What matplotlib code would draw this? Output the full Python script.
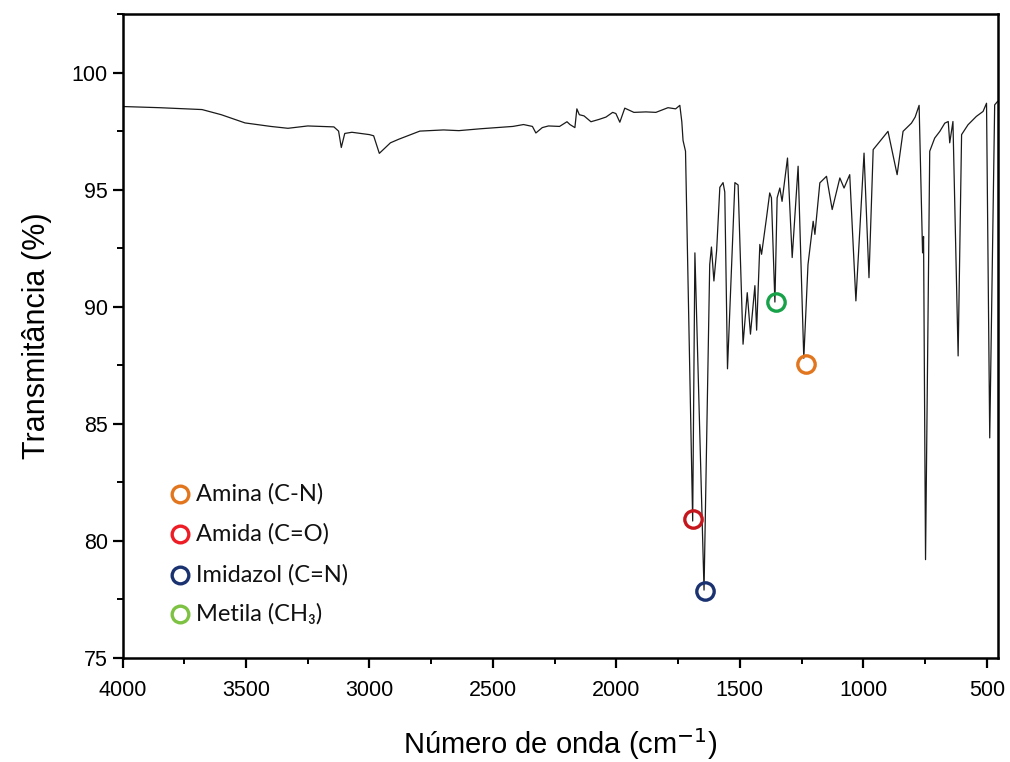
import matplotlib
matplotlib.use("Agg")
import matplotlib.pyplot as plt
from matplotlib.ticker import MultipleLocator

# FTIR spectrum (wavenumber in cm-1, transmittance in %)
wavenumber = [4000, 3850, 3678, 3600, 3504, 3400, 3330, 3250, 3144, 3125, 3114, 3100,
              3071, 3000, 2983, 2960, 2945, 2915, 2882, 2796, 2700, 2638, 2550, 2419,
              2376, 2340, 2326, 2300, 2275, 2230, 2200, 2188, 2168, 2160, 2150, 2131,
              2103, 2070, 2042, 2015, 2002, 1986, 1966, 1929, 1880, 1840, 1791, 1760,
              1743, 1735, 1730, 1720, 1691, 1682, 1645, 1622, 1615, 1605, 1594, 1581,
              1568, 1561, 1550, 1520, 1507, 1487, 1470, 1457, 1439, 1432, 1419, 1412,
              1392, 1379, 1372, 1358, 1349, 1338, 1329, 1307, 1288, 1264, 1241, 1224,
              1203, 1196, 1176, 1149, 1126, 1095, 1078, 1055, 1030, 997, 977, 960,
              933, 900, 863, 839, 805, 790, 774, 760, 756, 748, 731, 711, 690, 670,
              656, 650, 637, 616, 602, 576, 542, 515, 501, 488, 468, 456]
transmittance = [98.55, 98.5, 98.42, 98.2, 97.85, 97.7, 97.62, 97.72, 97.68, 97.5, 96.8, 97.4,
                 97.45, 97.35, 97.3, 96.55, 96.7, 97.0, 97.15, 97.5, 97.55, 97.52, 97.6, 97.7,
                 97.78, 97.7, 97.42, 97.65, 97.72, 97.7, 97.9, 97.78, 97.65, 98.45, 98.2, 98.15,
                 97.9, 98.0, 98.1, 98.3, 98.25, 97.88, 98.48, 98.3, 98.32, 98.3, 98.5, 98.45,
                 98.6, 97.9, 97.1, 96.64, 80.85, 92.3, 77.9, 91.8, 92.55, 91.1, 92.4, 95.1,
                 95.3, 94.9, 87.35, 95.3, 95.2, 88.4, 90.6, 88.83, 90.9, 89.0, 92.66, 92.24,
                 93.8, 94.86, 94.65, 90.2, 94.65, 95.07, 94.5, 96.35, 92.1, 96.0, 87.8, 91.8,
                 93.65, 93.09, 95.29, 95.57, 94.15, 95.5, 95.07, 95.64, 90.25, 96.56, 91.24, 96.71,
                 97.06, 97.49, 95.64, 97.49, 97.84, 98.1, 98.6, 92.3, 93.0, 79.2, 96.64, 97.2, 97.49, 97.84,
                 97.91, 97.0, 97.91, 87.9, 97.35, 97.77, 98.13, 98.34, 98.69, 84.4, 98.62, 98.77]

# assigned bands
band_labels = ["Amina (C-N)", "Amida (C=O)", "Imidazol (C=N)", "Metila (CH₃)"]
band_wn = [1233, 1690, 1642, 1354]
band_t = [87.56, 80.92, 77.85, 90.2]
band_colors = ["#E2761E", "#C4161C", "#1B3270", "#17A24A"]
legend_colors = ["#E2761E", "#EE1C24", "#1B3270", "#7DC242"]

fig = plt.figure(figsize=(10.1, 7.62), dpi=100)
ax = fig.add_axes([0.1213, 0.1365, 0.8667, 0.8451])

ax.plot(wavenumber, transmittance, color="#1a1a1a", lw=0.9)

for w, t, c in zip(band_wn, band_t, band_colors):
    ax.plot(w, t, marker="o", ms=12.5, mfc="none", mec=c, mew=2.4, ls="none")

# legend drawn by hand
leg_y = [0.2547, 0.1925, 0.1289, 0.0683]
for lab, y, c in zip(band_labels, leg_y, legend_colors):
    ax.plot(0.0657, y, marker="o", ms=12, mfc="none", mec=c, mew=2.4,
            transform=ax.transAxes, clip_on=False)
    ax.text(0.084, y, lab, transform=ax.transAxes, va="center", ha="left",
            fontsize=17, family=["Lato", "DejaVu Sans"], color="#111111")

ax.set_xlim(4000, 455)
ax.set_ylim(75, 102.5)
ax.xaxis.set_major_locator(MultipleLocator(500))
ax.xaxis.set_minor_locator(MultipleLocator(250))
ax.yaxis.set_major_locator(MultipleLocator(5))
ax.yaxis.set_minor_locator(MultipleLocator(2.5))
ax.tick_params(which="major", direction="out", length=7, width=1.6, labelsize=15.5)
ax.tick_params(axis="x", which="major", pad=9)
ax.tick_params(which="minor", direction="out", length=4, width=1.4)
for lbl in ax.get_xticklabels() + ax.get_yticklabels():
    lbl.set_family("Liberation Sans")
for s in ax.spines.values():
    s.set_linewidth(1.8)

ax.set_xlabel("Número de onda (cm$^{-1}$)", fontsize=21, family="Liberation Sans", labelpad=18)
ax.set_ylabel("Transmitância (%)", fontsize=22, family="Liberation Sans", labelpad=14)

fig.savefig("out.png", dpi=100)
